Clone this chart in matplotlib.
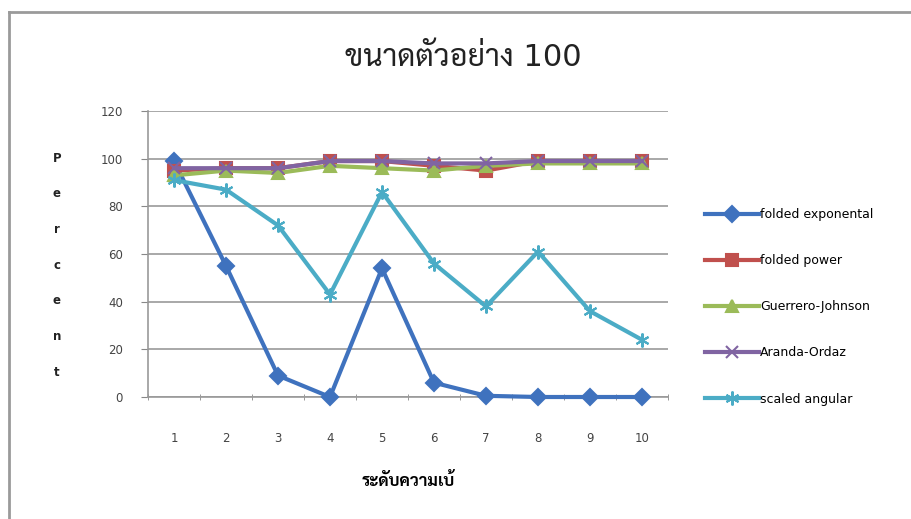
import matplotlib
matplotlib.use("Agg")
import matplotlib.pyplot as plt
from matplotlib.lines import Line2D

plt.rcParams.update({
    "font.family": ["DejaVu Sans", "Sarabun"],
    "axes.spines.top": False,
    "axes.spines.right": False,
})

levels = [1, 2, 3, 4, 5, 6, 7, 8, 9, 10]
folded_exp = [99, 55, 9, 0, 54, 6, 0.5, 0, 0, 0]
folded_power = [95, 96, 96, 99, 99, 97, 95, 99, 99, 99]
guerrero = [93, 95, 94, 97, 96, 95, 97, 98, 98, 98]
aranda = [96, 96, 96, 99, 99, 98, 98, 99, 99, 99]
scaled_ang = [91, 87, 72, 43, 86, 56, 38, 61, 36, 24]
yticks = [0, 20, 40, 60, 80, 100, 120]

series = [
    ("folded exponental", folded_exp, "#3f72be", "D", 8),
    ("folded power", folded_power, "#c0504d", "s", 8),
    ("Guerrero-Johnson", guerrero, "#9bbb59", "^", 8.5),
    ("Aranda-Ordaz", aranda, "#8064a2", "x", 8),
    ("scaled angular", scaled_ang, "#4bacc6", (6, 2, 0), 10),
]

fig = plt.figure(figsize=(9.12, 5.19), dpi=100)
ax = fig.add_axes([148 / 912, 1 - 397 / 519, 520 / 912, 286 / 519])

for label, vals, col, mk, ms in series:
    ax.plot(levels, vals, color=col, lw=3, marker=mk, markersize=ms,
            markeredgecolor=col, markeredgewidth=1.5, label=label,
            clip_on=False, zorder=3)

ax.set_xlim(0.5, 10.5)
ax.set_ylim(0, 120)
ax.set_yticks(yticks)
ax.set_yticklabels([str(v) for v in yticks], fontsize=8.5, color="#444444")
ax.set_xticks(levels)
ax.set_xticklabels([str(v) for v in levels], fontsize=8.5, color="#444444")
ax.set_xticks([x + 0.5 for x in range(0, 11)], minor=True)
ax.tick_params(axis="x", which="major", length=0, pad=25)
ax.tick_params(axis="x", which="minor", length=5, color="#888888", direction="inout")
ax.tick_params(axis="y", length=5, color="#888888", pad=13)
ax.grid(axis="y", color="#a8a8a8", lw=1.4)
ax.set_axisbelow(True)
for s in ("left", "bottom"):
    ax.spines[s].set_color("#999999")
    ax.spines[s].set_linewidth(1.2)

ax.set_xlabel("ระดับความเบ้", fontsize=12, fontweight="bold",
              family=["Sarabun", "DejaVu Sans"], labelpad=20)

fig.text(463 / 912, 1 - 57 / 519, "ขนาดตัวอย่าง 100", ha="center", va="center",
         fontsize=22, color="#222222")

# vertical stacked axis label
for i, ch in enumerate("Percent"):
    fig.text(57 / 912, 1 - (158 + i * 35.7) / 519, ch, ha="center", va="center",
             fontsize=8.5, fontweight="bold", color="#222222")

ax.legend(loc="upper left", bbox_to_anchor=(705 / 912, 1 - 208 / 519),
          bbox_transform=fig.transFigure, frameon=False, fontsize=9,
          handlelength=4.3, handletextpad=0.1, labelspacing=2.65,
          borderpad=0, borderaxespad=0)

# outer chart frame
fig.add_artist(Line2D([9 / 912, 1], [1 - 12 / 519] * 2, color="#9a9a9a", lw=2))
fig.add_artist(Line2D([9 / 912] * 2, [0, 1 - 12 / 519], color="#9a9a9a", lw=2))

fig.savefig("out.png", dpi=100)
